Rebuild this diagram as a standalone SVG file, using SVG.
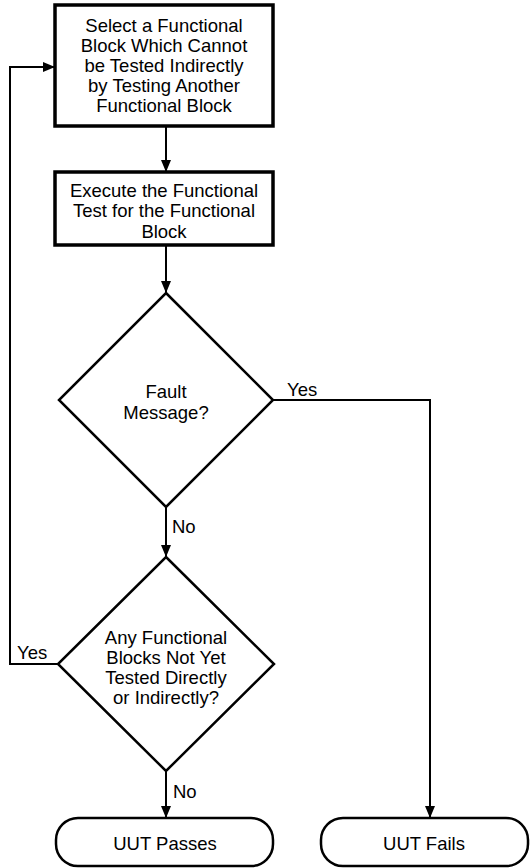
<svg xmlns="http://www.w3.org/2000/svg" width="530" height="868" viewBox="0 0 530 868">
<style>
text{font-family:"Liberation Sans",Arial,sans-serif;font-size:18.5px;fill:#000;}
.c{text-anchor:middle;}
.box{fill:#fff;stroke:#000;stroke-width:3.5;}
.dia{fill:#fff;stroke:#000;stroke-width:2.5;}
.term{fill:#fff;stroke:#000;stroke-width:2.5;}
.con{fill:none;stroke:#000;stroke-width:2;}
</style>
<defs>
<marker id="ah" markerWidth="12" markerHeight="10" refX="12" refY="5" orient="auto" markerUnits="userSpaceOnUse">
<path d="M0,0 L12,5 L0,10 Z" fill="#000"/>
</marker>
</defs>
<rect width="530" height="868" fill="#fff"/>
<g id="connectors">
<line class="con" x1="166" y1="126" x2="166" y2="172" marker-end="url(#ah)"/>
<line class="con" x1="166" y1="245" x2="166" y2="293" marker-end="url(#ah)"/>
<polyline class="con" points="273,400 430,400 430,818" marker-end="url(#ah)"/>
<line class="con" x1="166" y1="507" x2="166" y2="557" marker-end="url(#ah)"/>
<polyline class="con" points="59,664 10,664 10,67 55,67" marker-end="url(#ah)"/>
<line class="con" x1="166" y1="771" x2="166" y2="818" marker-end="url(#ah)"/>
<text x="287" y="396">Yes</text>
<text x="172" y="533">No</text>
<text x="17" y="659">Yes</text>
<text x="173" y="798">No</text>
</g>
<g id="select">
<rect class="box" x="55" y="5" width="218" height="121"/>
<text class="c" x="164" y="32">Select a Functional</text>
<text class="c" x="164" y="52">Block Which Cannot</text>
<text class="c" x="164" y="72">be Tested Indirectly</text>
<text class="c" x="164" y="92">by Testing Another</text>
<text class="c" x="164" y="112">Functional Block</text>
</g>
<g id="execute">
<rect class="box" x="55" y="172" width="218" height="73"/>
<text class="c" x="164" y="197">Execute the Functional</text>
<text class="c" x="164" y="217">Test for the Functional</text>
<text class="c" x="164" y="238">Block</text>
</g>
<g id="fault">
<polygon class="dia" points="166,293 273,400 166,507 59,400"/>
<text class="c" x="166" y="398">Fault</text>
<text class="c" x="166" y="419">Message?</text>
</g>
<g id="any">
<polygon class="dia" points="166,557 274,664 166,771 58,664"/>
<text class="c" x="166" y="644">Any Functional</text>
<text class="c" x="166" y="664">Blocks Not Yet</text>
<text class="c" x="166" y="684">Tested Directly</text>
<text class="c" x="166" y="704">or Indirectly?</text>
</g>
<g id="passes">
<rect class="term" x="56" y="818" width="217" height="48" rx="22" ry="22"/>
<text class="c" x="165" y="850">UUT Passes</text>
</g>
<g id="fails">
<rect class="term" x="321" y="818" width="207" height="48" rx="22" ry="22"/>
<text class="c" x="424" y="850">UUT Fails</text>
</g>
</svg>
